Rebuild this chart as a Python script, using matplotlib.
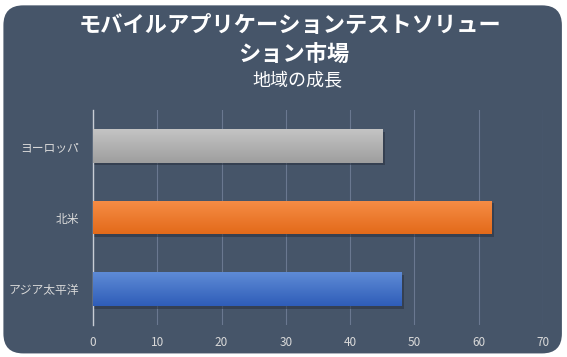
import matplotlib
matplotlib.use("Agg")
import matplotlib.pyplot as plt
import numpy as np
from matplotlib.patches import FancyBboxPatch
from matplotlib.colors import LinearSegmentedColormap

plt.rcParams['font.family'] = ['Noto Sans CJK JP', 'DejaVu Sans']

categories = ['アジア太平洋', '北米', 'ヨーロッパ']
values = [48, 62, 45]
top_colors = ['#5E8BD6', '#F68D46', '#C4C4C4']
bot_colors = ['#2F5DB8', '#E36A1A', '#9E9E9E']
xticks = [0, 10, 20, 30, 40, 50, 60, 70]

bg = '#465569'
fig = plt.figure(figsize=(5.67, 3.57), dpi=100)
fig.patch.set_facecolor('white')
box = FancyBboxPatch((0.006, 0.01), 0.985, 0.975, boxstyle="round,pad=0,rounding_size=0.035",
                     transform=fig.transFigure, facecolor=bg, edgecolor='none', zorder=-5,
                     mutation_aspect=567/357)
fig.patches.append(box)

ax = fig.add_axes([93/567, 1 - 325/357, 450/567, 215/357])
ax.set_zorder(2)
ax.set_facecolor('none')
ax.set_xlim(0, 70)
ax.set_ylim(-0.5, 2.5)
h = 0.47
for i, (c, v) in enumerate(zip(categories, values)):
    ax.barh(i - 0.035, v + 0.35, height=h, left=0.0, color='#27303F', alpha=0.55, zorder=2)
    bars = ax.barh(i, v, height=h, color=top_colors[i], zorder=3)
    cmap = LinearSegmentedColormap.from_list('g', [bot_colors[i], top_colors[i]])
    grad = np.linspace(0, 1, 64).reshape(-1, 1)
    im = ax.imshow(grad, extent=[0, v, i - h / 2, i + h / 2], aspect='auto', cmap=cmap,
                   origin='lower', zorder=4)
    im.set_clip_path(bars.patches[0])
ax.set_xlim(0, 70)
ax.set_ylim(-0.5, 2.5)

ax.set_yticks(range(len(categories)))
ax.set_yticklabels(categories)
ax.set_xticks(xticks)
ax.set_xticklabels([str(t) for t in xticks])
ax.tick_params(axis='both', colors='#D9D9D9', labelsize=8.5, length=0)
ax.tick_params(axis='y', pad=10)
ax.tick_params(axis='x', pad=8)
ax.grid(axis='x', color='#6A7890', linewidth=0.8, zorder=1)
ax.set_axisbelow(True)
for s in ['top', 'right', 'bottom']:
    ax.spines[s].set_visible(False)
ax.spines['left'].set_color('#C8CDD5')
ax.spines['left'].set_linewidth(1.0)

fig.text(0.512, 0.928, 'モバイルアプリケーションテストソリュー', ha='center', va='center',
         fontsize=16, fontweight='bold', color='white')
fig.text(0.518, 0.845, 'ション市場', ha='center', va='center',
         fontsize=16, fontweight='bold', color='white')
fig.text(0.525, 0.772, '地域の成長', ha='center', va='center',
         fontsize=13, color='white')

fig.savefig('out.png', dpi=100, facecolor='white')
